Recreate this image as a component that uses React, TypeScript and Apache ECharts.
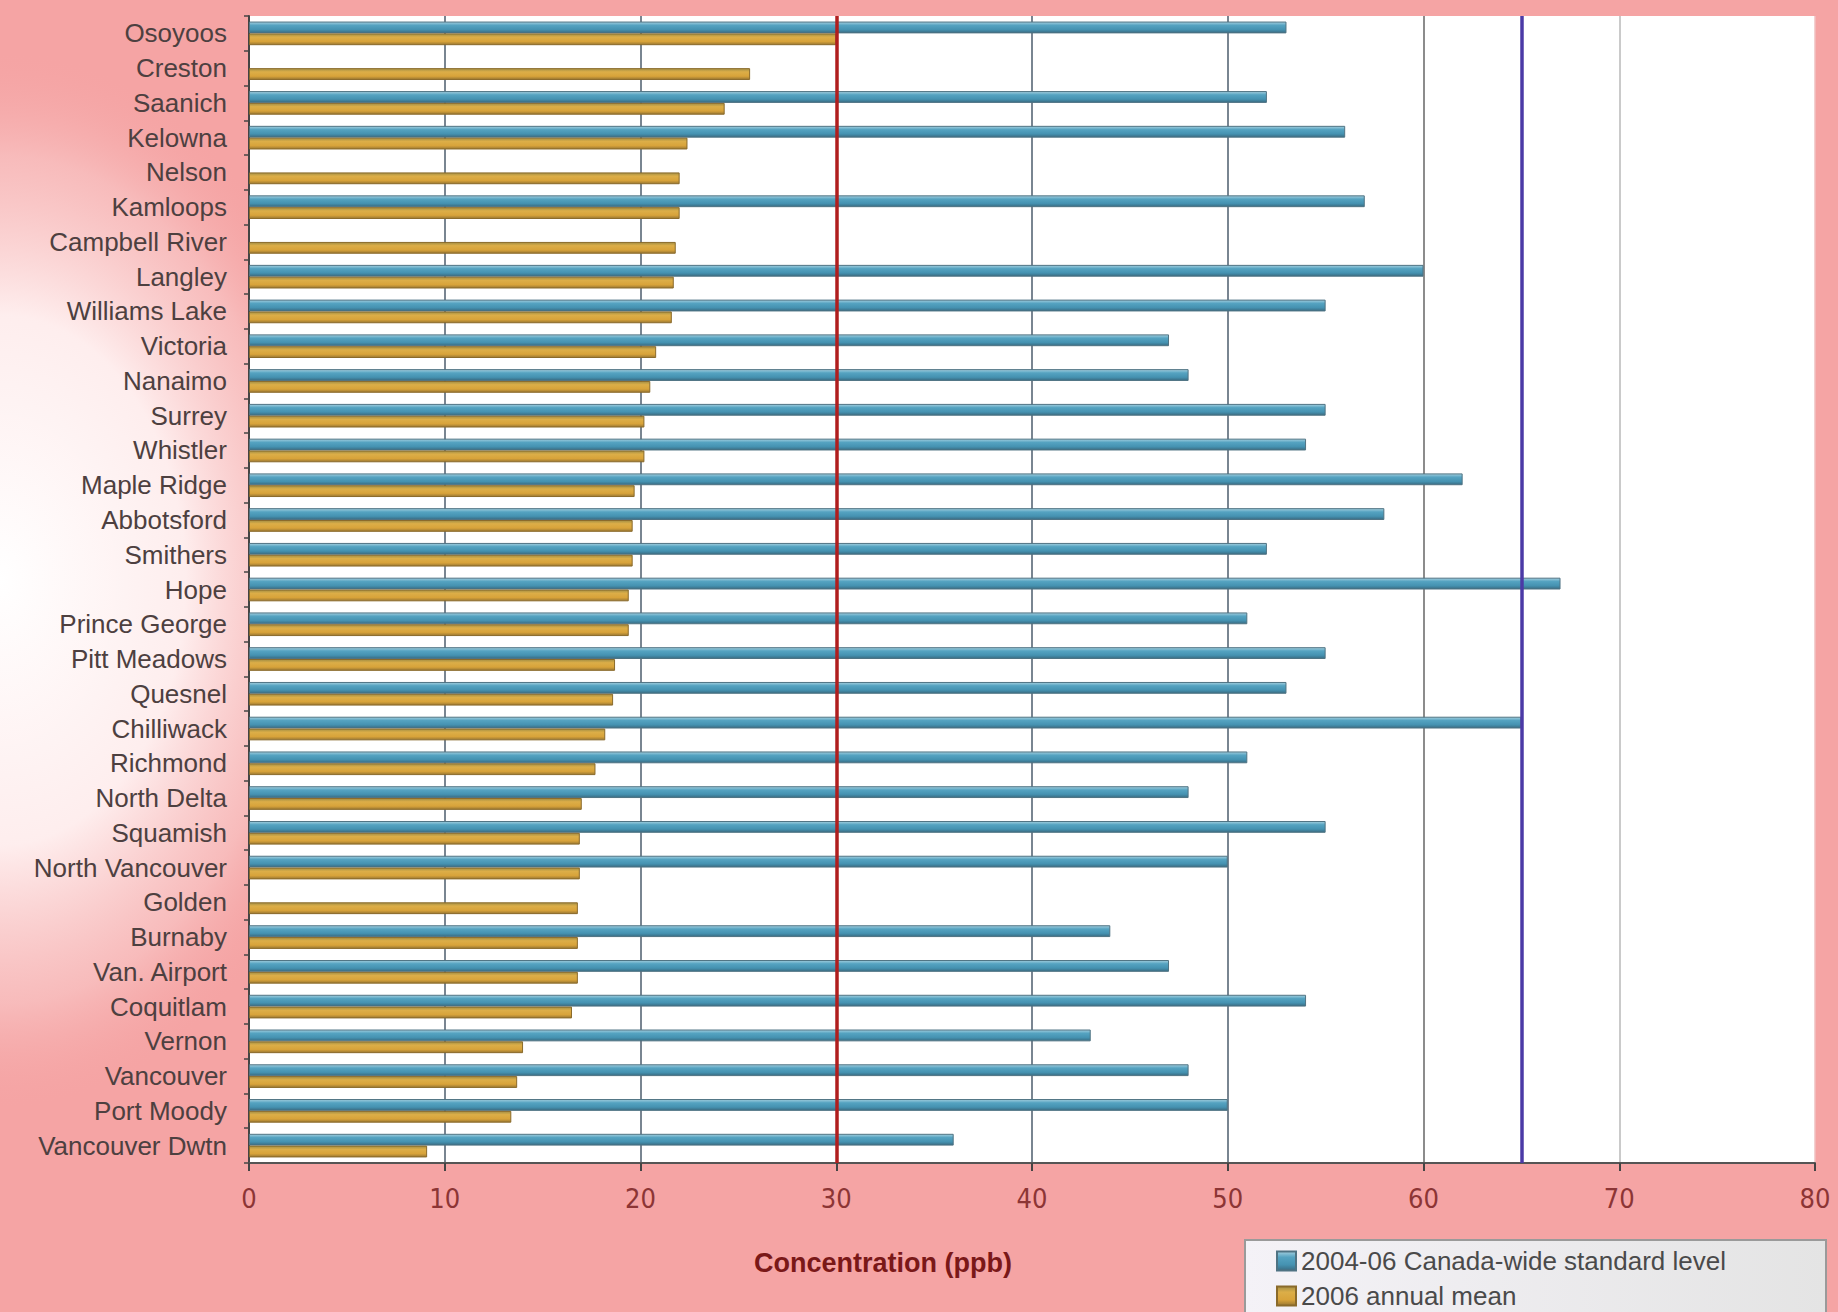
import React, { useEffect, useRef } from "react";
import * as echarts from "echarts";

const categories = [
  "Osoyoos", "Creston", "Saanich", "Kelowna", "Nelson", "Kamloops", "Campbell River",
  "Langley", "Williams Lake", "Victoria", "Nanaimo", "Surrey", "Whistler", "Maple Ridge",
  "Abbotsford", "Smithers", "Hope", "Prince George", "Pitt Meadows", "Quesnel", "Chilliwack",
  "Richmond", "North Delta", "Squamish", "North Vancouver", "Golden", "Burnaby",
  "Van. Airport", "Coquitlam", "Vernon", "Vancouver", "Port Moody", "Vancouver Dwtn",
];

const standardLevel = [
  53, null, 52, 56, null, 57, null, 60, 55, 47, 48, 55, 54, 62, 58, 52, 67,
  51, 55, 53, 65, 51, 48, 55, 50, null, 44, 47, 54, 43, 48, 50, 36,
];

const annualMean = [
  30.0, 25.6, 24.3, 22.4, 22.0, 22.0, 21.8, 21.7, 21.6, 20.8, 20.5, 20.2, 20.2,
  19.7, 19.6, 19.6, 19.4, 19.4, 18.7, 18.6, 18.2, 17.7, 17.0, 16.9, 16.9, 16.8,
  16.8, 16.8, 16.5, 14.0, 13.7, 13.4, 9.1,
];

const seriesNames = ["2004-06 Canada-wide standard level", "2006 annual mean"];
const referenceLines = [30, 65];
const axisMin = 0;
const axisMax = 80;
const axisStep = 10;

export default function App() {
  const ref = useRef<HTMLDivElement>(null);

  useEffect(() => {
    const chart = echarts.init(ref.current as HTMLDivElement, null, { renderer: "svg" });
    const G = echarts.graphic;
    const blueFill = new G.LinearGradient(0, 0, 0, 1, [
      { offset: 0, color: "#a3cfdf" },
      { offset: 0.3, color: "#55a3c1" },
      { offset: 0.7, color: "#4592b1" },
      { offset: 1, color: "#3a6c82" },
    ]);
    const goldFill = new G.LinearGradient(0, 0, 0, 1, [
      { offset: 0, color: "#a38f45" },
      { offset: 0.3, color: "#dcae48" },
      { offset: 0.7, color: "#d8a33a" },
      { offset: 1, color: "#9a7833" },
    ]);
    const labelFont = "'Liberation Sans', Arial, sans-serif";

    chart.setOption({
      animation: false,
      backgroundColor: "#f5a4a4",
      graphic: [
        {
          type: "circle",
          z: -10,
          x: 0,
          y: 580,
          scaleX: 0.7,
          shape: { cx: 0, cy: 0, r: 530 },
          style: {
            fill: new G.RadialGradient(0.5, 0.5, 0.5, [
              { offset: 0, color: "rgba(255,255,255,1)" },
              { offset: 0.5, color: "rgba(255,244,244,0.92)" },
              { offset: 0.8, color: "rgba(250,210,210,0.5)" },
              { offset: 1, color: "rgba(245,164,164,0)" },
            ]),
          },
        },
        {
          type: "rect",
          shape: { x: 1245, y: 1240, width: 581, height: 90 },
          style: {
            fill: new G.LinearGradient(0, 0, 1, 0, [
              { offset: 0, color: "#f4f2f7" },
              { offset: 1, color: "#e4e4e4" },
            ]),
            stroke: "#9a9a9a",
            lineWidth: 2,
          },
        },
        {
          type: "text",
          x: 883,
          y: 1263,
          style: {
            text: "Concentration (ppb)",
            fontSize: 27,
            fontWeight: "bold",
            fontFamily: labelFont,
            fill: "#7a1818",
            align: "center",
            verticalAlign: "middle",
          },
        },
      ],
      grid: {
        left: 249,
        right: 23,
        top: 16,
        bottom: 149,
        show: true,
        backgroundColor: "#ffffff",
        borderWidth: 0,
      },
      legend: {
        data: seriesNames,
        orient: "vertical",
        left: 1276,
        top: 1248,
        padding: 0,
        itemWidth: 19,
        itemHeight: 19,
        itemGap: 9,
        icon: "rect",
        textStyle: { fontSize: 26, color: "#4a4a4a", fontFamily: labelFont },
      },
      xAxis: {
        type: "value",
        min: axisMin,
        max: axisMax,
        interval: axisStep,
        axisLine: { show: true, lineStyle: { color: "#555", width: 2 } },
        axisTick: { show: true, length: 8, lineStyle: { color: "#444", width: 2 } },
        axisLabel: {
          fontSize: 27,
          color: "#8c3535",
          margin: 22,
          fontFamily: "'DejaVu Sans Condensed', 'Liberation Sans Narrow', 'Liberation Sans', sans-serif",
        },
        splitLine: {
          show: true,
          lineStyle: {
            color: ["#444", "#4d5d6d", "#4d5d6d", "#4d5d6d", "#4d5d6d", "#4d5d6d", "#666", "#b8b8b8", "#f0c0c0"],
            width: 1.5,
          },
        },
      },
      yAxis: {
        type: "category",
        data: categories,
        inverse: true,
        axisLine: { show: true, lineStyle: { color: "#444", width: 2 } },
        axisTick: { show: true, length: 5, interval: 0, lineStyle: { color: "#444", width: 1.5 } },
        axisLabel: { interval: 0, fontSize: 26, color: "#4d4040", margin: 22, fontFamily: labelFont },
        splitLine: { show: false },
      },
      series: [
        {
          name: seriesNames[0],
          type: "bar",
          data: standardLevel,
          barWidth: "34%",
          barGap: "0%",
          itemStyle: { color: blueFill, borderColor: "#4f7383", borderWidth: 1 },
        },
        {
          name: seriesNames[1],
          type: "bar",
          data: annualMean,
          barWidth: "34%",
          barGap: "0%",
          itemStyle: { color: goldFill, borderColor: "#8a6a2a", borderWidth: 1 },
          markLine: {
            silent: true,
            symbol: ["none", "none"],
            label: { show: false },
            lineStyle: { type: "solid", width: 3.5 },
            data: [
              { xAxis: referenceLines[0], lineStyle: { color: "#b01e1e", type: "solid", width: 3.5 } },
              { xAxis: referenceLines[1], lineStyle: { color: "#4b3aa6", type: "solid", width: 3.5 } },
            ],
          },
        },
      ],
    });

    return () => chart.dispose();
  }, []);

  return (
    <div
      ref={ref}
      style={{ position: "fixed", left: 0, top: 0, width: 1838, height: 1312 }}
    />
  );
}
